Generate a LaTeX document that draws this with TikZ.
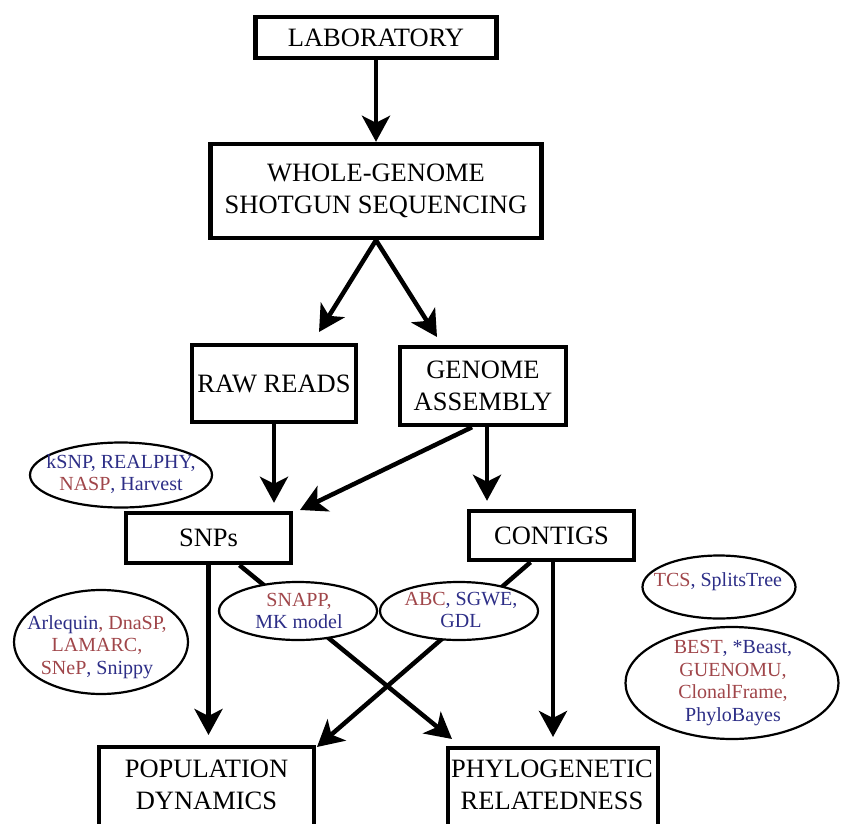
\documentclass[tikz,border=0pt]{standalone}
\usepackage{fontspec}
\setmainfont{Liberation Serif}
\usetikzlibrary{arrows.meta,shapes.geometric,calc}
\definecolor{tblue}{RGB}{45,46,135}
\definecolor{tred}{RGB}{160,70,74}
\newcommand{\bl}[1]{\textcolor{tblue}{#1}}
\newcommand{\rd}[1]{\textcolor{tred}{#1}}
\begin{document}
\begin{tikzpicture}[x=1pt,y=-1pt,
  box/.style={draw, line width=4.4pt, fill=white, inner sep=0pt, align=center,
    font=\fontsize{26.5}{32}\selectfont},
  boxtext/.style={inner sep=0pt, align=center, font=\fontsize{26.5}{32}\selectfont},
  oval/.style={draw, ellipse, line width=2.2pt, fill=white, inner sep=0pt},
  ovaltext/.style={inner sep=0pt, align=center, font=\fontsize{20}{22.5}\selectfont},
  arr/.style={line width=4.5pt, -{Stealth[length=26pt,width=28pt,inset=7pt]}}
]
\useasboundingbox (0,0) rectangle (843,824);
\clip (0,0) rectangle (843,824);

% boxes
\node[box, minimum width=241pt, minimum height=41pt] (lab) at (376,37.5) {LABORATORY};
\node[box, minimum width=331pt, minimum height=94pt] (wgs) at (376,191) {WHOLE-GENOME\\SHOTGUN SEQUENCING};
\node[box, minimum width=164pt, minimum height=77pt] (rr) at (274,383.5) {RAW READS};
\node[box, minimum width=166pt, minimum height=78pt] (ga) at (483,386) {GENOME\\ASSEMBLY};
\node[box, minimum width=165pt, minimum height=50pt] (snps) at (208.5,538) {SNPs};
\node[box, minimum width=165pt, minimum height=49pt] (contigs) at (551.5,535.5) {CONTIGS};
\node[box, minimum width=215pt, minimum height=120pt, anchor=north] (pop) at (206.5,745) {};
\node[boxtext] (poptxt) at (206.5,785) {POPULATION\\DYNAMICS};
\node[box, minimum width=210pt, minimum height=120pt, anchor=north] (phylo) at (553,746) {};
\node[boxtext] (phylotxt) at (552,785) {PHYLOGENETIC\\RELATEDNESS};

% arrow tips
\coordinate (tRR) at (319,332);
\coordinate (tGA) at (437,337);
\coordinate (tSN) at (300,510);
\coordinate (tPH) at (452,739);
\coordinate (tPO) at (317,747);

% arrows
\draw[arr] (lab.south) -- (wgs.north);
\draw[arr] (wgs.south) -- (tRR);
\draw[arr] (wgs.south) -- (tGA);
\draw[arr] (rr.south) -- ($(rr.south |- snps.north)+(0,-8)$);
\draw[arr] ($(ga.south)+(-11,0)$) -- (tSN);
\draw[arr] ($(ga.south)+(4,0)$) -- ($(ga.south |- contigs.north)+(4,-8)$);
\draw[arr] (snps.south) -- ($(snps.south |- pop.north)+(0,-10)$);
\draw[arr] ($(snps.south)+(31,0)$) -- (tPH);
\draw[arr] ($(contigs.south)+(-21,0)$) -- (tPO);
\draw[arr] (contigs.south -| phylo.north) -- ($(phylo.north)+(0,-9)$);

% ellipses
\node[oval, minimum width=182pt, minimum height=65pt] (e1) at (121,475) {};
\node[ovaltext] (e1t) at (121,474) {\bl{kSNP, REALPHY,}\\\rd{NASP}\bl{, Harvest}};
\node[oval, minimum width=174pt, minimum height=104pt] (e2) at (101,642) {};
\node[ovaltext] (e2t) at (97,647) {\bl{Arlequin}\rd{, DnaSP,}\\\rd{LAMARC,}\\\rd{SNeP}\bl{, Snippy}};
\node[oval, minimum width=158pt, minimum height=58pt] (e3) at (298,611) {};
\node[ovaltext] (e3t) at (299,611) {\rd{SNAPP,}\\\bl{MK model}};
\node[oval, minimum width=158pt, minimum height=58pt] (e4) at (459,611) {};
\node[ovaltext] (e4t) at (461,610) {\rd{ABC}\bl{, SGWE,}\\\bl{GDL}};
\node[oval, minimum width=153pt, minimum height=63pt] (e5) at (719,587) {};
\node[ovaltext] (e5t) at (718,582) {\rd{TCS}\bl{, SplitsTree}};
\node[oval, minimum width=213pt, minimum height=112pt] (e6) at (732,683) {};
\node[ovaltext] (e6t) at (733,683) {\rd{BEST}\bl{, *Beast,}\\\rd{GUENOMU,}\\\rd{ClonalFrame,}\\\bl{PhyloBayes}};
\end{tikzpicture}
\end{document}
